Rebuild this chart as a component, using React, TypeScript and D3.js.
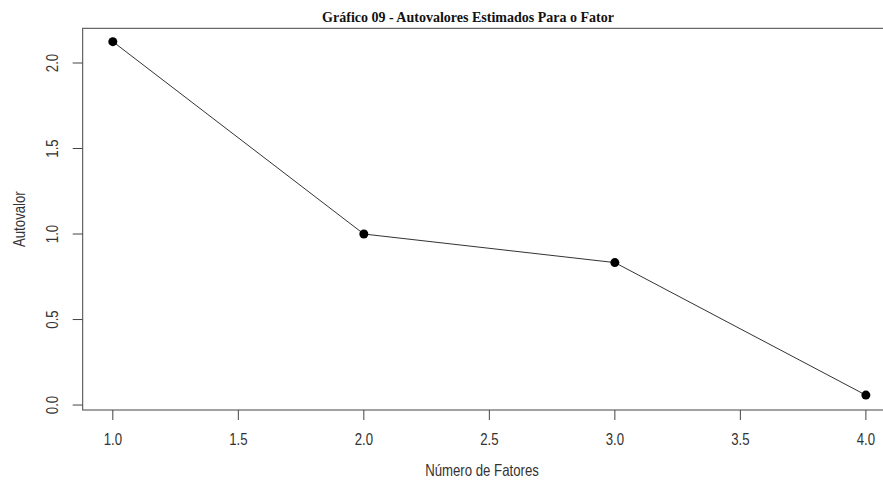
import React from "react";
import * as d3 from "d3";

const factors = [1, 2, 3, 4];
const eigenvalues = [2.125, 1.0, 0.833, 0.058];
const xTicks = [1.0, 1.5, 2.0, 2.5, 3.0, 3.5, 4.0];
const yTicks = [0.0, 0.5, 1.0, 1.5, 2.0];
const title = "Gráfico 09 - Autovalores Estimados Para o Fator";
const xTitle = "Número de Fatores";
const yTitle = "Autovalor";

const W = 883;
const H = 481;
const left = 82.7;
const right = 896;
const top = 28.3;
const bottom = 410;

export default function App() {
  const x = d3.scaleLinear().domain([0.88, 4.12]).range([left, right]);
  const y = d3.scaleLinear().domain([-0.029, 2.203]).range([bottom, top]);
  const pts: [number, number][] = factors.map((f, i) => [f, eigenvalues[i]]);
  const line = d3
    .line<[number, number]>()
    .x((d) => x(d[0]))
    .y((d) => y(d[1]));
  const sans = "'Liberation Sans', Arial, sans-serif";
  const txtColor = "#333";
  const sx = 0.8;
  const fs = 16.5;
  return (
    <svg
      width={W}
      height={H}
      style={{ position: "absolute", left: 0, top: 0, background: "#fff" }}
    >
      <rect x={0} y={0} width={W} height={H} fill="#fff" />
      <text
        x={468}
        y={22}
        textAnchor="middle"
        fontFamily="'Liberation Serif', 'Times New Roman', serif"
        fontWeight="bold"
        fontSize={14}
        fill="#111"
      >
        {title}
      </text>
      <rect
        x={left}
        y={top}
        width={right - left}
        height={bottom - top}
        fill="none"
        stroke="#444"
        strokeWidth={1}
      />
      {xTicks.map((t) => (
        <g key={"x" + t}>
          <line x1={x(t)} x2={x(t)} y1={bottom} y2={bottom + 10} stroke="#444" />
          <text
            transform={`translate(${x(t)},445) scale(${sx},1)`}
            textAnchor="middle"
            fontFamily={sans}
            fontSize={fs}
            fill={txtColor}
          >
            {t.toFixed(1)}
          </text>
        </g>
      ))}
      {yTicks.map((t) => (
        <g key={"y" + t}>
          <line x1={left - 10} x2={left} y1={y(t)} y2={y(t)} stroke="#444" />
          <text
            transform={`translate(58,${y(t)}) rotate(-90) scale(${sx},1)`}
            textAnchor="middle"
            fontFamily={sans}
            fontSize={fs}
            fill={txtColor}
          >
            {t.toFixed(1)}
          </text>
        </g>
      ))}
      <text
        transform={`translate(482,476) scale(${sx},1)`}
        textAnchor="middle"
        fontFamily={sans}
        fontSize={fs}
        fill={txtColor}
      >
        {xTitle}
      </text>
      <text
        transform={`translate(25,${(top + bottom) / 2}) rotate(-90) scale(${sx},1)`}
        textAnchor="middle"
        fontFamily={sans}
        fontSize={fs}
        fill={txtColor}
      >
        {yTitle}
      </text>
      <path d={line(pts) || ""} fill="none" stroke="#333" strokeWidth={1} />
      {pts.map((p, i) => (
        <circle key={i} cx={x(p[0])} cy={y(p[1])} r={4.5} fill="#000" />
      ))}
    </svg>
  );
}
